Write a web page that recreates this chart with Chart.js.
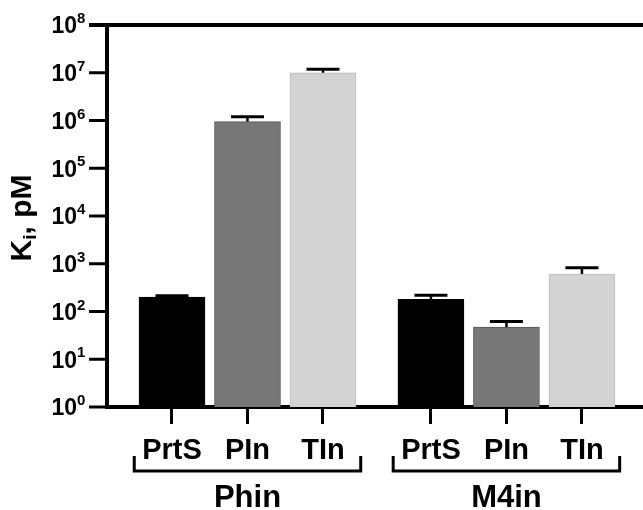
<!DOCTYPE html>
<html>
<head>
<meta charset="utf-8">
<title>Ki chart</title>
<script src="https://cdn.jsdelivr.net/npm/chart.js@4/dist/chart.umd.min.js"></script>
<style>
  html, body { margin: 0; padding: 0; background: #fff; }
  #wrap { width: 643px; height: 510px; position: relative; }
</style>
</head>
<body>
<div id="wrap"><canvas id="ki-chart"></canvas></div>
<script>
const inhibitors = ["PrtS", "PIn", "TIn"];
const groups = ["Phin", "M4in"];
const phinKi = [200, 950000, 10000000];
const phinErr = [15, 250000, 1800000];
const m4inKi = [180, 47, 610];
const m4inErr = [40, 15, 215];
const yExponents = [0, 1, 2, 3, 4, 5, 6, 7, 8];
const barColours = ["#000000", "#777777", "#d3d3d3"];
const barBorders = ["#000000", "#555555", "#bdbdbd"];

// layout: bars sit one unit apart, the second group is pushed a little further
const GROUP_STEP = 3.43;
const FONT = "'Liberation Sans', Arial, sans-serif";

const groupValues = [phinKi, m4inKi];
const groupErrors = [phinErr, m4inErr];

const points = [];
const errors = [];
const colours = [];
const borders = [];
const tickNames = {};
groups.forEach((g, gi) => {
  inhibitors.forEach((name, i) => {
    const x = 1 + i + gi * GROUP_STEP;
    points.push({ x: x, y: groupValues[gi][i] });
    errors.push(groupErrors[gi][i]);
    colours.push(barColours[i]);
    borders.push(barBorders[i]);
    tickNames[x.toFixed(2)] = name;
  });
});

const errorBars = {
  id: "errorBars",
  afterDatasetsDraw(chart) {
    const ctx = chart.ctx;
    const yScale = chart.scales.y;
    const meta = chart.getDatasetMeta(0);
    ctx.save();
    ctx.strokeStyle = "#000";
    meta.data.forEach((bar, idx) => {
      const top = yScale.getPixelForValue(points[idx].y + errors[idx]);
      ctx.lineWidth = 2.5;
      ctx.beginPath();
      ctx.moveTo(bar.x, bar.y);
      ctx.lineTo(bar.x, top);
      ctx.stroke();
      ctx.lineWidth = 3;
      ctx.beginPath();
      ctx.moveTo(bar.x - 16.5, top);
      ctx.lineTo(bar.x + 16.5, top);
      ctx.stroke();
    });
    ctx.restore();
  },
};

const axisText = {
  id: "axisText",
  afterDraw(chart) {
    const ctx = chart.ctx;
    const yScale = chart.scales.y;
    const xScale = chart.scales.x;
    const axisX = chart.chartArea.left;
    ctx.save();
    ctx.fillStyle = "#000";
    ctx.strokeStyle = "#000";

    // y tick marks and labels as 10 with a raised exponent
    yExponents.forEach((e) => {
      const y = yScale.getPixelForValue(Math.pow(10, e));
      ctx.lineWidth = 3;
      ctx.beginPath();
      ctx.moveTo(89, y);
      ctx.lineTo(axisX, y);
      ctx.stroke();
      ctx.font = "bold 23px " + FONT;
      ctx.textAlign = "right";
      ctx.textBaseline = "middle";
      ctx.fillText("10", 77, y + 2);
      ctx.font = "bold 15px " + FONT;
      ctx.textAlign = "left";
      ctx.fillText(String(e), 77, y - 6);
    });

    // y title: K with subscript i
    ctx.translate(23, 218);
    ctx.rotate(-Math.PI / 2);
    ctx.textBaseline = "middle";
    ctx.textAlign = "left";
    const big = "bold 30px " + FONT;
    const small = "bold 19px " + FONT;
    ctx.font = big;
    const wK = ctx.measureText("K").width;
    const wRest = ctx.measureText(", pM").width;
    ctx.font = small;
    const wI = ctx.measureText("i").width;
    let x0 = -(wK + wI + wRest) / 2;
    ctx.font = big;
    ctx.fillText("K", x0, 0);
    x0 += wK;
    ctx.font = small;
    ctx.fillText("i", x0, 8);
    x0 += wI;
    ctx.font = big;
    ctx.fillText(", pM", x0, 0);
    ctx.setTransform(1, 0, 0, 1, 0, 0);

    // top frame line, running through the 10^8 tick
    ctx.lineWidth = 4;
    const yTop = yScale.getPixelForValue(100000000);
    ctx.beginPath();
    ctx.moveTo(89, yTop);
    ctx.lineTo(chart.width, yTop);
    ctx.stroke();

    // group brackets and names
    ctx.lineWidth = 3;
    groups.forEach((g, gi) => {
      const first = 1 + gi * GROUP_STEP;
      const last = first + inhibitors.length - 1;
      const left = xScale.getPixelForValue(first - 0.5);
      const right = xScale.getPixelForValue(last + 0.5);
      ctx.beginPath();
      ctx.moveTo(left, 456);
      ctx.lineTo(left, 471);
      ctx.lineTo(right, 471);
      ctx.lineTo(right, 456);
      ctx.stroke();
      ctx.font = "bold 31px " + FONT;
      ctx.textAlign = "center";
      ctx.textBaseline = "alphabetic";
      ctx.fillText(g, (left + right) / 2, 507);
    });
    ctx.restore();
  },
};

const config = {
  type: "bar",
  data: {
    datasets: [
      {
        data: points,
        backgroundColor: colours,
        borderColor: borders,
        borderWidth: 1,
        barThickness: 66,
      },
    ],
  },
  options: {
    responsive: true,
    maintainAspectRatio: false,
    animation: false,
    layout: { padding: { top: 25, right: 0, bottom: 0, left: 0 } },
    plugins: {
      legend: { display: false },
      tooltip: { enabled: false },
    },
    scales: {
      x: {
        type: "linear",
        min: 0.139,
        max: 7.239,
        offset: false,
        afterFit: (scale) => {
          scale.height = 103;
        },
        afterBuildTicks: (scale) => {
          scale.ticks = points.map((p) => ({ value: p.x }));
        },
        grid: {
          offset: false,
          drawOnChartArea: false,
          drawTicks: true,
          tickLength: 17,
          tickWidth: 3,
          tickColor: "#000",
        },
        border: { display: true, color: "#000", width: 4 },
        ticks: {
          autoSkip: false,
          maxRotation: 0,
          padding: 10,
          color: "#000",
          font: { family: FONT, size: 29, weight: "bold" },
          callback: (value) => tickNames[Number(value).toFixed(2)] || "",
        },
      },
      y: {
        type: "logarithmic",
        min: 1,
        max: 100000000,
        afterFit: (scale) => {
          scale.width = 107;
        },
        afterBuildTicks: (scale) => {
          scale.ticks = yExponents.map((e) => ({ value: Math.pow(10, e) }));
        },
        grid: { display: false },
        border: { display: true, color: "#000", width: 4 },
        ticks: { display: false },
      },
    },
  },
  plugins: [errorBars, axisText],
};

new Chart(document.getElementById("ki-chart"), config);
</script>
</body>
</html>
